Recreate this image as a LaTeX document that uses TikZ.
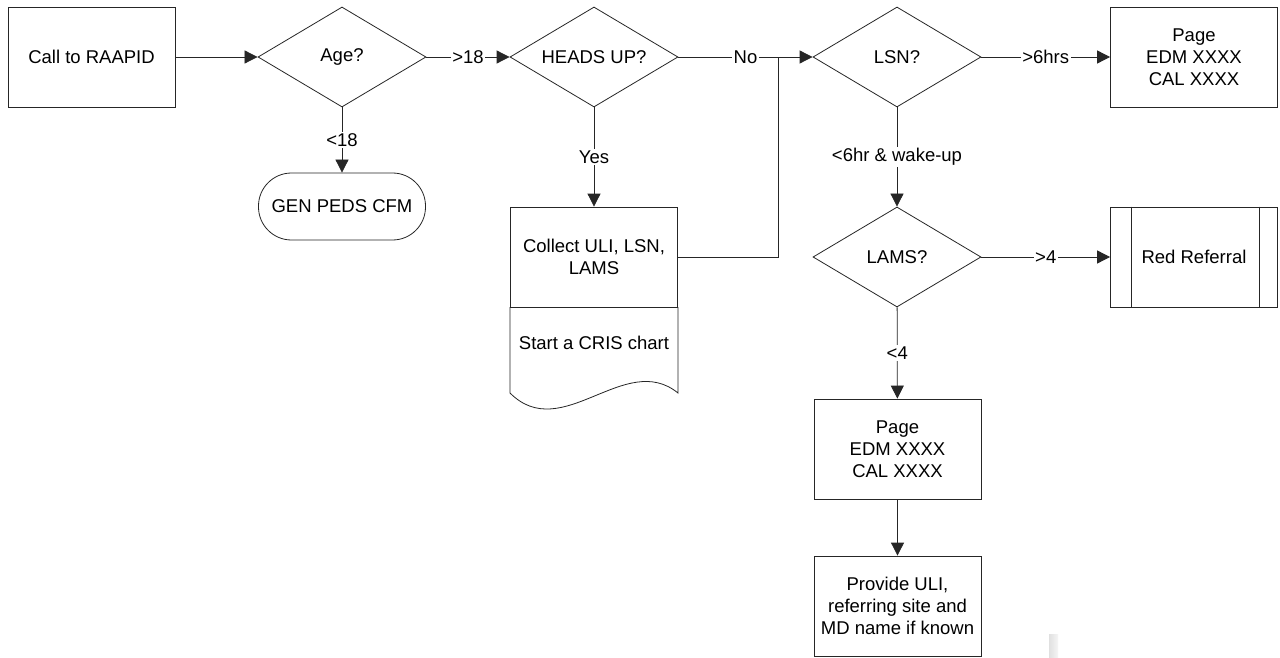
\documentclass[tikz,border=0pt]{standalone}
\usepackage{fontspec}
\setmainfont{Liberation Sans}
\usetikzlibrary{shapes.geometric,arrows.meta}
\begin{document}
\begin{tikzpicture}[x=1pt,y=-1pt,
  every node/.style={font=\fontsize{18.5}{22}\selectfont, text=black},
  line/.style={draw=black!85, line width=0.8pt},
  arr/.style={line, -{Triangle[length=13pt,width=13pt]}},
  box/.style={line, rectangle, minimum width=167pt, minimum height=100pt, inner sep=0pt, align=center},
  dec/.style={line, diamond, minimum width=168pt, minimum height=100pt, inner sep=0pt, aspect=1.68},
  term/.style={line, rectangle, rounded corners=33pt, minimum width=167pt, minimum height=67pt, inner sep=0pt},
  lbl/.style={fill=white, inner sep=1.5pt}
]
\useasboundingbox (0,0) rectangle (1280,658);
\fill[white] (0,0) rectangle (1280,658);

\node[box] (call) at (91.5,57) {Call to RAAPID};
\node[dec] (age) at (342,57) {Age?};
\node[dec] (heads) at (594,57) {HEADS UP?};
\node[dec] (lsn) at (897,57) {LSN?};
\node[box] (page1) at (1194,57) {Page\\EDM XXXX\\CAL XXXX};
\node[term] (peds) at (342,206.5) {GEN PEDS CFM};
\node[box] (collect) at (594,257) {Collect ULI, LSN,\\LAMS};
\draw[line] (510,307) -- (510,393) .. controls (562,445) and (625,350) .. (678,393) -- (678,307);
\node (cris) at (594,343) {Start a CRIS chart};
\node[dec] (lams) at (897,257) {LAMS?};
\node[box] (red) at (1194,257) {Red Referral};
\draw[line] ([xshift=21pt]red.north west) -- ([xshift=21pt]red.south west);
\draw[line] ([xshift=-19pt]red.north east) -- ([xshift=-19pt]red.south east);
\node[box] (page2) at (897.5,449) {Page\\EDM XXXX\\CAL XXXX};
\node[box] (provide) at (897.5,606) {Provide ULI,\\referring site and\\MD name if known};
\coordinate (j) at (778,57);

\draw[arr] (call) -- (age);
\draw[arr] (age) -- node[lbl] {>18} (heads);
\draw[arr] (heads) -- node[lbl, pos=0.5] {No} (lsn);
\draw[line] (collect.east) -| (j);
\draw[arr] (lsn) -- node[lbl] {>6hrs} (page1);
\draw[arr] (age) -- node[lbl] {<18} (peds);
\draw[arr] (heads) -- node[lbl] {Yes} (collect);
\draw[arr] (lsn) -- node[lbl] {<6hr \& wake-up} (lams);
\draw[arr] (lams) -- node[lbl] {>4} (red);
\draw[arr] (lams) -- node[lbl] {<4} (page2);
\draw[arr] (page2) -- (provide);

\shade[left color=black!12, right color=black!4] (1049,634) rectangle (1058,658);
\end{tikzpicture}
\end{document}
